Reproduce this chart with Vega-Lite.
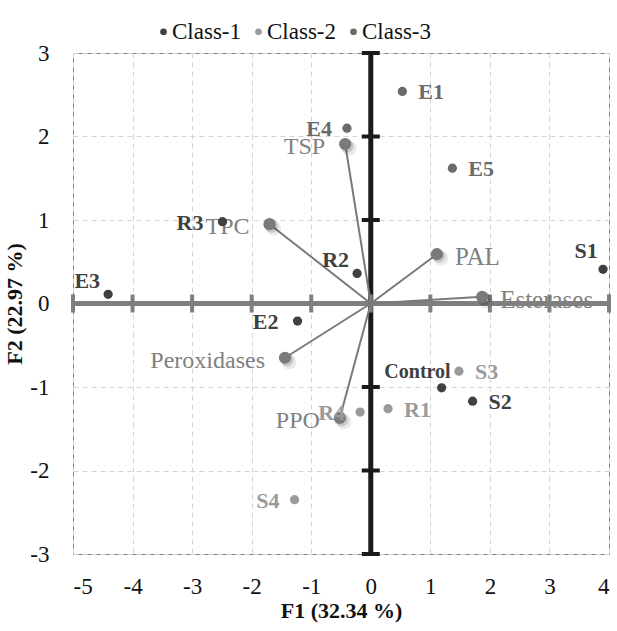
{
  "$schema": "https://vega.github.io/schema/vega-lite/v6.json",
  "width": 536,
  "height": 501,
  "autosize": {"type": "none"},
  "padding": {"left": 73, "top": 53, "right": 8, "bottom": 77},
  "background": "white",
  "config": {
    "font": "Liberation Serif",
    "view": {"stroke": "#808080", "strokeWidth": 1},
    "axis": {
      "domain": false,
      "ticks": false,
      "grid": true,
      "gridColor": "#d4d4d4",
      "gridDash": [5, 4],
      "labelFont": "Liberation Serif",
      "labelFontSize": 23,
      "labelColor": "#111111",
      "labelOverlap": false,
      "labelExpr": "'' + datum.value",
      "titleFont": "Liberation Serif",
      "titleFontSize": 22,
      "titleFontWeight": "bold",
      "titleColor": "#111111"
    },
    "legend": {
      "orient": "none",
      "legendX": 79,
      "legendY": -33,
      "direction": "horizontal",
      "labelFont": "Liberation Serif",
      "labelFontSize": 23,
      "labelColor": "#111111",
      "symbolSize": 45,
      "symbolType": "circle",
      "columnPadding": 6,
      "labelOffset": -3
    }
  },
  "datasets": {
    "obs": [
      {"name": "E3", "cls": "Class-1", "F1": -4.41, "F2": 0.11},
      {"name": "R3", "cls": "Class-1", "F1": -2.49, "F2": 0.98},
      {"name": "R2", "cls": "Class-1", "F1": -0.23, "F2": 0.36},
      {"name": "E2", "cls": "Class-1", "F1": -1.23, "F2": -0.21},
      {"name": "Control", "cls": "Class-1", "F1": 1.19, "F2": -1.01},
      {"name": "S2", "cls": "Class-1", "F1": 1.71, "F2": -1.17},
      {"name": "S1", "cls": "Class-1", "F1": 3.9, "F2": 0.41},
      {"name": "S3", "cls": "Class-2", "F1": 1.48, "F2": -0.81},
      {"name": "R1", "cls": "Class-2", "F1": 0.29, "F2": -1.26},
      {"name": "R4", "cls": "Class-2", "F1": -0.18, "F2": -1.3},
      {"name": "S4", "cls": "Class-2", "F1": -1.28, "F2": -2.35},
      {"name": "E1", "cls": "Class-3", "F1": 0.53, "F2": 2.54},
      {"name": "E4", "cls": "Class-3", "F1": -0.4, "F2": 2.1},
      {"name": "E5", "cls": "Class-3", "F1": 1.37, "F2": 1.62}
    ],
    "vars": [
      {"name": "TSP", "F1": -0.43, "F2": 1.91},
      {"name": "TPC", "F1": -1.7, "F2": 0.95},
      {"name": "PAL", "F1": 1.11, "F2": 0.59},
      {"name": "Esterases", "F1": 1.87, "F2": 0.08},
      {"name": "Peroxidases", "F1": -1.44, "F2": -0.65},
      {"name": "PPO", "F1": -0.52, "F2": -1.37}
    ],
    "xt": [{"v": -5}, {"v": -4}, {"v": -3}, {"v": -2}, {"v": -1}, {"v": 0}, {"v": 1}, {"v": 2}, {"v": 3}, {"v": 4}],
    "yt": [{"v": -3}, {"v": -2}, {"v": -1}, {"v": 0}, {"v": 1}, {"v": 2}, {"v": 3}],
    "one": [{"o": 0}]
  },
  "layer": [
    {
      "data": {"name": "obs"},
      "mark": {"type": "point", "opacity": 0},
      "encoding": {
        "x": {"field": "F1", "type": "quantitative", "scale": {"domain": [-5, 4], "nice": false, "zero": false},
              "axis": {"values": [-5, -4, -3, -2, -1, 0, 1, 2, 3, 4], "title": "F1 (32.34 %)", "labelPadding": 21, "titlePadding": 2}},
        "y": {"field": "F2", "type": "quantitative", "scale": {"domain": [-3, 3], "nice": false, "zero": false},
              "axis": {"values": [-3, -2, -1, 0, 1, 2, 3], "title": "F2 (22.97 %)", "labelPadding": 24, "titlePadding": 3}}
      }
    },
    {
      "data": {"name": "one"},
      "mark": {"type": "rule", "color": "#1a1a1a", "strokeWidth": 5},
      "encoding": {
        "x": {"datum": 0, "type": "quantitative"},
        "y": {"datum": -3, "type": "quantitative"},
        "y2": {"datum": 3}
      }
    },
    {
      "data": {"name": "yt"},
      "mark": {"type": "tick", "orient": "horizontal", "color": "#1a1a1a", "size": 18, "thickness": 4, "opacity": 1},
      "encoding": {
        "x": {"datum": 0, "type": "quantitative"},
        "y": {"field": "v", "type": "quantitative"}
      }
    },
    {
      "data": {"name": "one"},
      "mark": {"type": "rule", "color": "#7f7f7f", "strokeWidth": 5},
      "encoding": {
        "y": {"datum": 0, "type": "quantitative"},
        "x": {"datum": -5, "type": "quantitative"},
        "x2": {"datum": 4}
      }
    },
    {
      "data": {"name": "xt"},
      "mark": {"type": "tick", "orient": "vertical", "color": "#7f7f7f", "size": 18, "thickness": 4, "opacity": 1},
      "encoding": {
        "y": {"datum": 0, "type": "quantitative"},
        "x": {"field": "v", "type": "quantitative"}
      }
    },
    {
      "data": {"name": "vars"},
      "mark": {"type": "rule", "color": "#7a7a7a", "strokeWidth": 2},
      "encoding": {
        "x": {"field": "F1", "type": "quantitative"},
        "y": {"field": "F2", "type": "quantitative"},
        "x2": {"datum": 0},
        "y2": {"datum": 0}
      }
    },
    {
      "data": {"name": "vars"},
      "mark": {"type": "circle", "color": "#000000", "opacity": 0.08, "size": 230, "xOffset": 4, "yOffset": 4},
      "encoding": {
        "x": {"field": "F1", "type": "quantitative"},
        "y": {"field": "F2", "type": "quantitative"}
      }
    },
    {
      "data": {"name": "vars"},
      "mark": {"type": "circle", "color": "#000000", "opacity": 0.15, "size": 170, "xOffset": 2, "yOffset": 2},
      "encoding": {
        "x": {"field": "F1", "type": "quantitative"},
        "y": {"field": "F2", "type": "quantitative"}
      }
    },
    {
      "data": {"name": "vars"},
      "mark": {"type": "circle", "color": "#7a7a7a", "opacity": 1, "size": 150},
      "encoding": {
        "x": {"field": "F1", "type": "quantitative"},
        "y": {"field": "F2", "type": "quantitative"}
      }
    },
    {
      "data": {"name": "vars"},
      "transform": [{"filter": {"field": "name", "oneOf": ["TSP", "TPC", "Peroxidases", "PPO"]}}],
      "mark": {"type": "text", "align": "right", "baseline": "middle", "dx": -20, "dy": 3, "fontSize": 24, "color": "#808080", "font": "Liberation Serif"},
      "encoding": {
        "x": {"field": "F1", "type": "quantitative"},
        "y": {"field": "F2", "type": "quantitative"},
        "text": {"field": "name"}
      }
    },
    {
      "data": {"name": "vars"},
      "transform": [{"filter": {"field": "name", "oneOf": ["PAL", "Esterases"]}}],
      "mark": {"type": "text", "align": "left", "baseline": "middle", "dx": 18, "dy": 3, "fontSize": 25, "color": "#808080", "font": "Liberation Serif"},
      "encoding": {
        "x": {"field": "F1", "type": "quantitative"},
        "y": {"field": "F2", "type": "quantitative"},
        "text": {"field": "name"}
      }
    },
    {
      "data": {"name": "obs"},
      "mark": {"type": "circle", "opacity": 1, "size": 85},
      "encoding": {
        "x": {"field": "F1", "type": "quantitative"},
        "y": {"field": "F2", "type": "quantitative"},
        "color": {"field": "cls", "type": "nominal", "scale": {"domain": ["Class-1", "Class-2", "Class-3"], "range": ["#404040", "#9a9a9a", "#6a6a6a"]}, "legend": {"title": null}}
      }
    },
    {
      "data": {"name": "obs"},
      "transform": [{"filter": {"field": "name", "oneOf": ["E1", "E5", "S3", "S2", "R1"]}}],
      "mark": {"type": "text", "align": "left", "baseline": "middle", "dx": 16, "dy": 1, "fontSize": 22, "fontWeight": "bold", "font": "Liberation Serif"},
      "encoding": {
        "x": {"field": "F1", "type": "quantitative"},
        "y": {"field": "F2", "type": "quantitative"},
        "text": {"field": "name"},
        "color": {"field": "cls", "type": "nominal", "legend": null}
      }
    },
    {
      "data": {"name": "obs"},
      "transform": [{"filter": {"field": "name", "oneOf": ["E4", "R4", "S4"]}}],
      "mark": {"type": "text", "align": "right", "baseline": "middle", "dx": -15, "dy": 1, "fontSize": 22, "fontWeight": "bold", "font": "Liberation Serif"},
      "encoding": {
        "x": {"field": "F1", "type": "quantitative"},
        "y": {"field": "F2", "type": "quantitative"},
        "text": {"field": "name"},
        "color": {"field": "cls", "type": "nominal", "legend": null}
      }
    },
    {
      "data": {"name": "obs"},
      "transform": [{"filter": {"field": "name", "oneOf": ["E2", "R3"]}}],
      "mark": {"type": "text", "align": "right", "baseline": "middle", "dx": -19, "dy": 1, "fontSize": 22, "fontWeight": "bold", "font": "Liberation Serif"},
      "encoding": {
        "x": {"field": "F1", "type": "quantitative"},
        "y": {"field": "F2", "type": "quantitative"},
        "text": {"field": "name"},
        "color": {"field": "cls", "type": "nominal", "legend": null}
      }
    },
    {
      "data": {"name": "obs"},
      "transform": [{"filter": {"field": "name", "oneOf": ["R2", "E3"]}}],
      "mark": {"type": "text", "align": "right", "baseline": "middle", "dx": -8, "dy": -13, "fontSize": 22, "fontWeight": "bold", "font": "Liberation Serif"},
      "encoding": {
        "x": {"field": "F1", "type": "quantitative"},
        "y": {"field": "F2", "type": "quantitative"},
        "text": {"field": "name"},
        "color": {"field": "cls", "type": "nominal", "legend": null}
      }
    },
    {
      "data": {"name": "obs"},
      "transform": [{"filter": {"field": "name", "equal": "S1"}}],
      "mark": {"type": "text", "align": "center", "baseline": "middle", "dx": -17, "dy": -18, "fontSize": 22, "fontWeight": "bold", "font": "Liberation Serif"},
      "encoding": {
        "x": {"field": "F1", "type": "quantitative"},
        "y": {"field": "F2", "type": "quantitative"},
        "text": {"field": "name"},
        "color": {"field": "cls", "type": "nominal", "legend": null}
      }
    },
    {
      "data": {"name": "obs"},
      "transform": [{"filter": {"field": "name", "equal": "Control"}}],
      "mark": {"type": "text", "align": "right", "baseline": "middle", "dx": 9, "dy": -16, "fontSize": 20, "fontWeight": "bold", "font": "Liberation Serif"},
      "encoding": {
        "x": {"field": "F1", "type": "quantitative"},
        "y": {"field": "F2", "type": "quantitative"},
        "text": {"field": "name"},
        "color": {"field": "cls", "type": "nominal", "legend": null}
      }
    }
  ]
}
